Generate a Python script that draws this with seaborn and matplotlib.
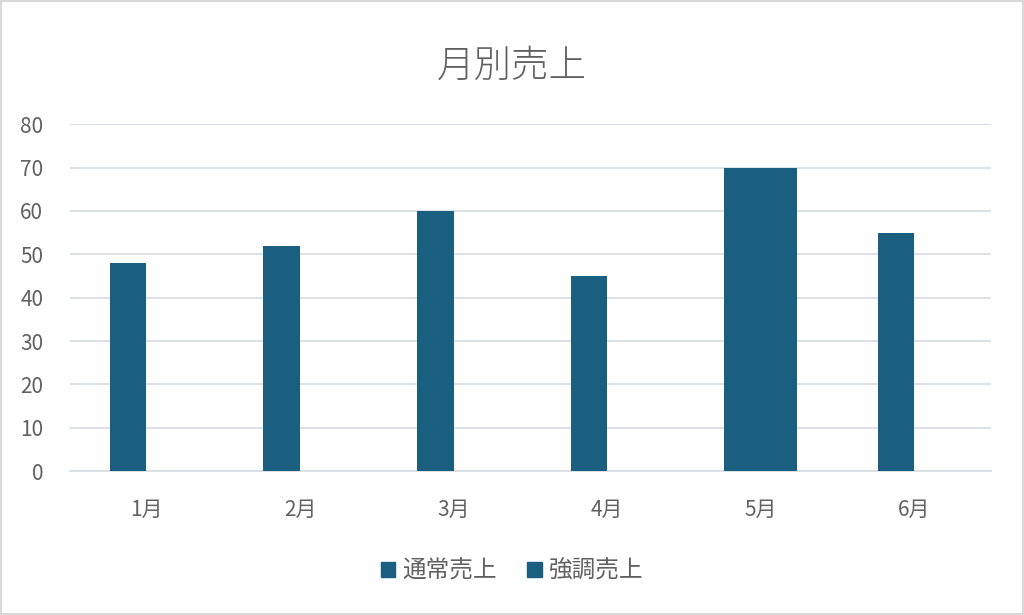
import numpy as np
import pandas as pd
import seaborn as sns
import matplotlib.pyplot as plt
from matplotlib.patches import Rectangle

months = ["1月", "2月", "3月", "4月", "5月", "6月"]
normal_sales = [48, 52, 60, 45, 70, 55]
highlight_sales = [np.nan, np.nan, np.nan, np.nan, 70, np.nan]
series_names = ["通常売上", "強調売上"]

bar_color = "#1a5f80"
text_color = "#616161"

df = pd.DataFrame({
    "月": months * 2,
    "売上": normal_sales + highlight_sales,
    "系列": [series_names[0]] * 6 + [series_names[1]] * 6,
})

sns.set_theme(style="white")
plt.rcParams["font.family"] = ["Noto Sans CJK JP", "DejaVu Sans"]

fig = plt.figure(figsize=(10.24, 6.15), dpi=100)
ax = fig.add_axes([0.068, 0.234, 0.9, 0.564])

sns.barplot(data=df, x="月", y="売上", hue="系列", order=months,
            hue_order=series_names, palette=[bar_color, bar_color],
            width=0.477, dodge=True, gap=0, saturation=1, ax=ax,
            edgecolor="none", linewidth=0, zorder=3)

ax.set_ylim(0, 80)
ax.set_yticks(range(0, 81, 10))
ax.set_xlim(-0.5, 5.5)
ax.grid(axis="y", color="#d9dee4", linewidth=1.3, zorder=0)
for s in ["top", "right", "left"]:
    ax.spines[s].set_visible(False)
ax.spines["bottom"].set_color("#d9dee4")
ax.spines["bottom"].set_linewidth(1.3)
ax.tick_params(axis="both", length=0, labelsize=15, labelcolor=text_color)
ax.tick_params(axis="x", pad=20)
ax.tick_params(axis="y", pad=19)
ax.set_xlabel("")
ax.set_ylabel("")

fig.suptitle("月別売上", y=0.925, fontsize=27, color=text_color,
             fontweight="light")

ax.legend_.remove()
handles = [Rectangle((0, 0), 1, 1, color=bar_color) for _ in series_names]
fig.legend(handles, series_names, loc="center", bbox_to_anchor=(0.5, 0.071),
           ncol=2, frameon=False, fontsize=17, labelcolor=text_color,
           handlelength=0.6, handleheight=0.6, handletextpad=0.3,
           columnspacing=1.3)

fig.patches.append(Rectangle((0.001, 0.001), 0.998, 0.997, transform=fig.transFigure,
                             fill=False, edgecolor="#d9d9d9", linewidth=1.5))

fig.savefig("out.png", dpi=100, facecolor="white")
